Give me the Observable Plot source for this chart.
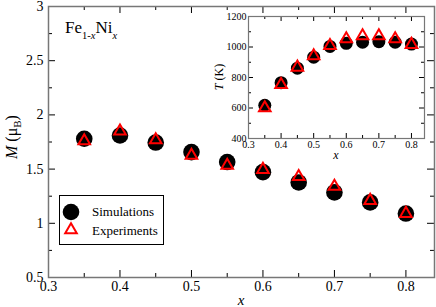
<!DOCTYPE html>
<html><head><meta charset="utf-8">
<script src="https://cdn.jsdelivr.net/npm/d3@7"></script>
<script src="https://cdn.jsdelivr.net/npm/@observablehq/plot@0.6"></script>
<style>
html,body{margin:0;padding:0;background:#fff;}
#wrap{position:relative;width:436px;height:307px;overflow:hidden;}
#main,#inset{position:absolute;left:0;top:0;}
</style></head><body><div id="wrap"><div id="main"></div><div id="inset"></div></div>
<script>
// ---- data ----
const concentrations = [0.35, 0.40, 0.45, 0.50, 0.55, 0.60, 0.65, 0.70, 0.75, 0.80];
const momentSim = [1.78, 1.81, 1.745, 1.657, 1.565, 1.472, 1.377, 1.285, 1.193, 1.09];
const momentExp = [1.76, 1.85, 1.77, 1.626, 1.534, 1.496, 1.43, 1.34, 1.21, 1.09];
const tcSim = [618, 766, 861, 933, 1004, 1024, 1031, 1035, 1031, 1019];
const tcExp = [600, 753, 867, 941, 1008, 1053, 1073, 1073, 1053, 1016];
const seriesNames = ["Simulations", "Experiments"];
const xMajorTicks = [0.3, 0.4, 0.5, 0.6, 0.7, 0.8];
const xMinorTicks = [0.35, 0.45, 0.55, 0.65, 0.75];
const mMajorTicks = [0.5, 1, 1.5, 2, 2.5, 3];
const mMinorTicks = [0.75, 1.25, 1.75, 2.25, 2.75];
const tMajorTicks = [400, 600, 800, 1000, 1200];
const tMinorTicks = [500, 700, 900, 1100];

// ---- helpers ----
const SERIF = "Liberation Serif, Times New Roman, Times, DejaVu Serif, serif";
const fmt = d => String(d);
const simRows = concentrations.map((x, i) => ({x, m: momentSim[i], t: tcSim[i]}));
const expRows = concentrations.map((x, i) => ({x, m: momentExp[i], t: tcExp[i]}));

function frameTicks(xs, ys, len, iw, ih) {
  return [
    Plot.tickX(xs, {x: d => d, insetTop: ih - len, stroke: "#000", strokeWidth: 1}),
    Plot.tickX(xs, {x: d => d, insetBottom: ih - len, stroke: "#000", strokeWidth: 1}),
    Plot.tickY(ys, {y: d => d, insetRight: iw - len, stroke: "#000", strokeWidth: 1}),
    Plot.tickY(ys, {y: d => d, insetLeft: iw - len, stroke: "#000", strokeWidth: 1})
  ];
}

// ---- main chart ----
const W = 436, H = 307, mL = 48, mR = 2, mT = 6, mB = 30;
const iw = W - mL - mR, ih = H - mT - mB;
const main = Plot.plot({
  width: W, height: H,
  marginLeft: mL, marginRight: mR, marginTop: mT, marginBottom: mB,
  style: {fontFamily: SERIF, fontSize: "14px", background: "transparent", overflow: "visible"},
  x: {domain: [0.3, 0.84]},
  y: {domain: [0.5, 3]},
  marks: [
    ...frameTicks(xMajorTicks, mMajorTicks, 7, iw, ih),
    ...frameTicks(xMinorTicks, mMinorTicks, 4, iw, ih),
    Plot.frame({stroke: "#777", strokeWidth: 1.5}),
    Plot.axisX(xMajorTicks, {tickSize: 0, tickPadding: 4, tickFormat: fmt, label: null, fontSize: 14, fontFamily: SERIF}),
    Plot.axisY(mMajorTicks, {tickSize: 0, tickPadding: 5, tickFormat: fmt, label: null, fontSize: 14, fontFamily: SERIF}),
    Plot.dot(simRows, {x: "x", y: "m", r: 8.3, fill: "#000", stroke: "none"}),
    Plot.dot(expRows, {x: "x", y: "m", r: 4.3, symbol: "triangle", fill: "none", stroke: "#ff0000", strokeWidth: 2})
  ]
});
document.getElementById("main").appendChild(main);

const ms = d3.select(main);
// title
const title = ms.append("text").attr("x", 65).attr("y", 33).attr("text-anchor", "start")
  .style("font-family", SERIF).attr("font-size", 17).attr("fill", "#000");
title.append("tspan").text("Fe");
title.append("tspan").attr("dy", 6).attr("font-size", 10.5).text("1-");
title.append("tspan").attr("font-size", 10.5).attr("font-style", "italic").text("x");
title.append("tspan").attr("dy", -6).text("Ni");
title.append("tspan").attr("dy", 6).attr("font-size", 10.5).attr("font-style", "italic").text("x");

// y label
const yl = ms.append("text").attr("transform", "translate(17,137) rotate(-90)")
  .attr("text-anchor", "middle").style("font-family", SERIF).attr("font-size", 16).attr("fill", "#000");
yl.append("tspan").attr("font-style", "italic").text("M");
yl.append("tspan").text(" (μ");
yl.append("tspan").attr("dy", 4).attr("font-size", 11).text("B");
yl.append("tspan").attr("dy", -4).text(")");

// x label
ms.append("text").attr("x", 241).attr("y", 305).attr("text-anchor", "middle")
  .style("font-family", SERIF).attr("font-size", 15).attr("font-style", "italic").text("x");

// legend
const lg = ms.append("g");
lg.append("rect").attr("x", 59.5).attr("y", 195.5).attr("width", 104).attr("height", 49)
  .attr("fill", "#fff").attr("stroke", "#000").attr("stroke-width", 1);
lg.append("circle").attr("cx", 71).attr("cy", 212).attr("r", 8.3).attr("fill", "#000");
lg.append("path").attr("transform", "translate(71,230)")
  .attr("d", d3.symbol(d3.symbolTriangle, 4.3 * 4.3 * Math.PI)())
  .attr("fill", "none").attr("stroke", "#ff0000").attr("stroke-width", 2);
lg.selectAll("text.lbl").data(seriesNames).join("text")
  .attr("x", 92).attr("y", (d, i) => 216 + i * 18.5).attr("text-anchor", "start")
  .style("font-family", SERIF).attr("font-size", 13).attr("fill", "#000").text(d => d);

// ---- inset ----
const IW = 220, IH = 154, imL = 36, imR = 8, imT = 6, imB = 26;
const iiw = IW - imL - imR, iih = IH - imT - imB;
const inset = Plot.plot({
  width: IW, height: IH,
  marginLeft: imL, marginRight: imR, marginTop: imT, marginBottom: imB,
  style: {fontFamily: SERIF, fontSize: "10px", background: "transparent", overflow: "visible"},
  x: {domain: [0.3, 0.84]},
  y: {domain: [400, 1200]},
  marks: [
    Plot.frame({fill: "#fff", stroke: "none"}),
    ...frameTicks(xMajorTicks, tMajorTicks, 5, iiw, iih),
    ...frameTicks(xMinorTicks, tMinorTicks, 3, iiw, iih),
    Plot.frame({stroke: "#777", strokeWidth: 1.2}),
    Plot.axisX(xMajorTicks, {tickSize: 0, tickPadding: 2, tickFormat: fmt, label: null, fontSize: 10, fontFamily: SERIF}),
    Plot.axisY(tMajorTicks, {tickSize: 0, tickPadding: 2, tickFormat: fmt, label: null, fontSize: 10, fontFamily: SERIF}),
    Plot.dot(simRows, {x: "x", y: "t", r: 6.5, fill: "#000", stroke: "none"}),
    Plot.dot(expRows, {x: "x", y: "t", r: 4.3, symbol: "triangle", fill: "none", stroke: "#ff0000", strokeWidth: 2})
  ]
});
const insetDiv = document.getElementById("inset");
insetDiv.style.left = (248 - imL) + "px";
insetDiv.style.top = (16 - imT) + "px";
insetDiv.appendChild(inset);
const is = d3.select(inset);
const tl = is.append("text").attr("transform", "translate(11," + (77 - 10) + ") rotate(-90)")
  .attr("text-anchor", "middle").style("font-family", SERIF).attr("font-size", 12).attr("fill", "#000");
tl.append("tspan").attr("font-style", "italic").text("T");
tl.append("tspan").text(" (K)");
is.append("text").attr("x", 336 - 212).attr("y", 159 - 10).attr("text-anchor", "middle")
  .style("font-family", SERIF).attr("font-size", 12).attr("font-style", "italic").text("x");
</script></body></html>
